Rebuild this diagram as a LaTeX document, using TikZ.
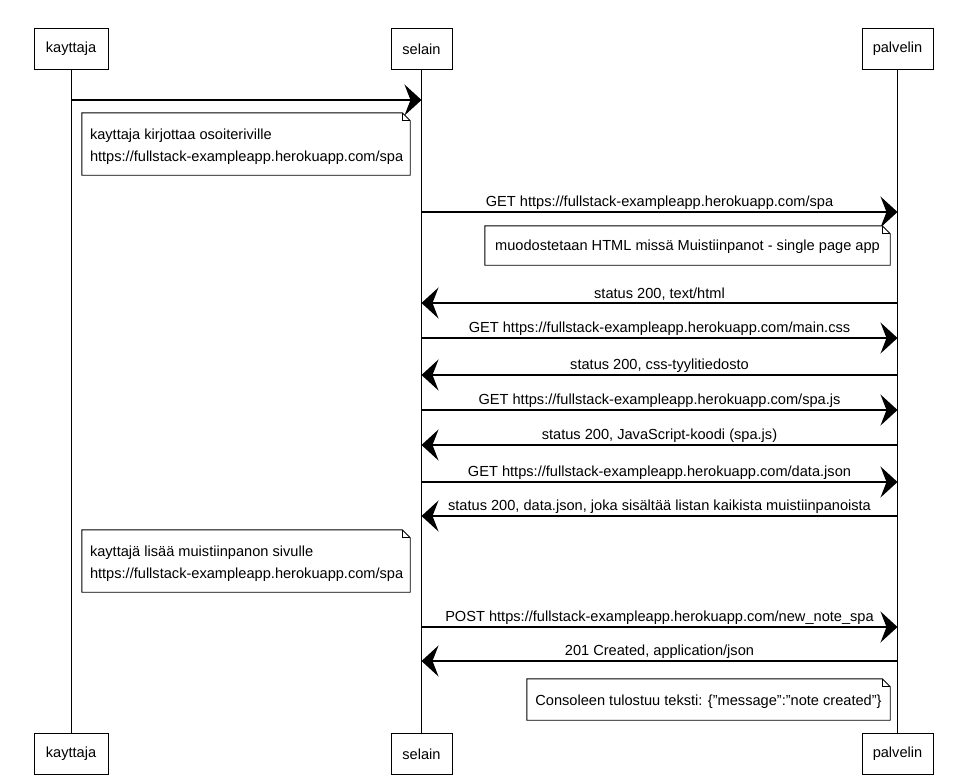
\documentclass[tikz,border=0pt]{standalone}
\usepackage{fontspec}
\setmainfont{Liberation Sans}
\usetikzlibrary{arrows.meta}
\begin{document}
\begin{tikzpicture}[x=1pt,y=-1pt,
  every node/.style={font=\fontsize{14.6}{22}\selectfont},
  actor/.style={draw, line width=1pt, minimum height=41pt, inner sep=0pt, fill=white},
  life/.style={line width=0.9pt},
  msg/.style={line width=1.1pt, -{Stealth[length=17pt,width=31pt,inset=6pt]}},
  lbl/.style={above=1pt, midway, inner sep=1pt},
  notebox/.style={inner sep=8pt, minimum height=40pt},
  notetext/.style={inner sep=0pt, align=left, anchor=north west},
]
\useasboundingbox (0,0) rectangle (953,779);
\fill[white] (0,0) rectangle (953,779);

% participants, top row
\node[actor, minimum width=74pt] (kt) at (71,49) {kayttaja};
\node[actor, minimum width=61pt] (st) at (421.5,49) {selain};
\node[actor, minimum width=71pt] (pt) at (897.5,49) {palvelin};
% participants, bottom row
\node[actor, minimum width=74pt] (kb) at (71,754) {kayttaja};
\node[actor, minimum width=61pt] (sb) at (421.5,754) {selain};
\node[actor, minimum width=71pt] (pb) at (897.5,754) {palvelin};

% lifelines
\draw[life] (kt.south) -- (kb.north);
\draw[life] (st.south) -- (sb.north);
\draw[life] (pt.south) -- (pb.north);

% note outline with folded top-right corner
\newcommand{\notefold}[1]{%
  \draw[line width=0.9pt, fill=white] (#1.north west) -- ([xshift=-8pt]#1.north east)
    -- ([yshift=-8pt]#1.north east) -- (#1.south east) -- (#1.south west) -- cycle;
  \draw[line width=0.7pt] ([xshift=-8pt]#1.north east) -- ([xshift=-8pt,yshift=-8pt]#1.north east)
    -- ([yshift=-8pt]#1.north east);}

% messages and notes
\draw[msg] (kt.south |- 0,100) -- (st.south |- 0,100);

\node[notebox, minimum width=328pt, minimum height=62pt] (n1) at (246,144) {};
\notefold{n1}
\node[notetext] (t1) at ([xshift=8pt,yshift=-16pt]n1.north west)
  {kayttaja kirjottaa osoiteriville\\https://fullstack-exampleapp.herokuapp.com/spa};

\draw[msg] (st.south |- 0,212) -- node[lbl] {GET https://fullstack-exampleapp.herokuapp.com/spa} (pt.south |- 0,212);

\node[notebox, minimum width=405pt, minimum height=39pt] (n2) at (687.5,245.5) {};
\notefold{n2}
\node[inner sep=0pt] (t2) at ([yshift=-1pt]n2.center)
  {muodostetaan HTML missä Muistiinpanot - single page app};

\draw[msg] (pt.south |- 0,303) -- node[lbl] {status 200, text/html} (st.south |- 0,303);
\draw[msg] (st.south |- 0,338) -- node[lbl] {GET https://fullstack-exampleapp.herokuapp.com/main.css} (pt.south |- 0,338);
\draw[msg] (pt.south |- 0,375) -- node[lbl] {status 200, css-tyylitiedosto} (st.south |- 0,375);
\draw[msg] (st.south |- 0,410) -- node[lbl] {GET https://fullstack-exampleapp.herokuapp.com/spa.js} (pt.south |- 0,410);
\draw[msg] (pt.south |- 0,445) -- node[lbl] {status 200, JavaScript-koodi (spa.js)} (st.south |- 0,445);
\draw[msg] (st.south |- 0,482) -- node[lbl] {GET https://fullstack-exampleapp.herokuapp.com/data.json} (pt.south |- 0,482);
\draw[msg] (pt.south |- 0,516) -- node[lbl] {status 200, data.json, joka sisältää listan kaikista muistiinpanoista} (st.south |- 0,516);

\node[notebox, minimum width=328pt, minimum height=62pt] (n3) at (246,561) {};
\notefold{n3}
\node[notetext] (t3) at ([xshift=8pt,yshift=-16pt]n3.north west)
  {kayttajä lisää muistiinpanon sivulle\\https://fullstack-exampleapp.herokuapp.com/spa};

\draw[msg] (st.south |- 0,627) -- node[lbl] {POST https://fullstack-exampleapp.herokuapp.com/new\_note\_spa} (pt.south |- 0,627);
\draw[msg] (pt.south |- 0,661) -- node[lbl] {201 Created, application/json} (st.south |- 0,661);

\node[notebox, minimum width=363pt, minimum height=41pt] (n4) at (708.5,699.5) {};
\notefold{n4}
\node[inner sep=0pt] (t4) at ([yshift=-2pt]n4.center)
  {Consoleen tulostuu teksti: \{\symbol{34}message\symbol{34}:\symbol{34}note created\symbol{34}\}};
\end{tikzpicture}
\end{document}
